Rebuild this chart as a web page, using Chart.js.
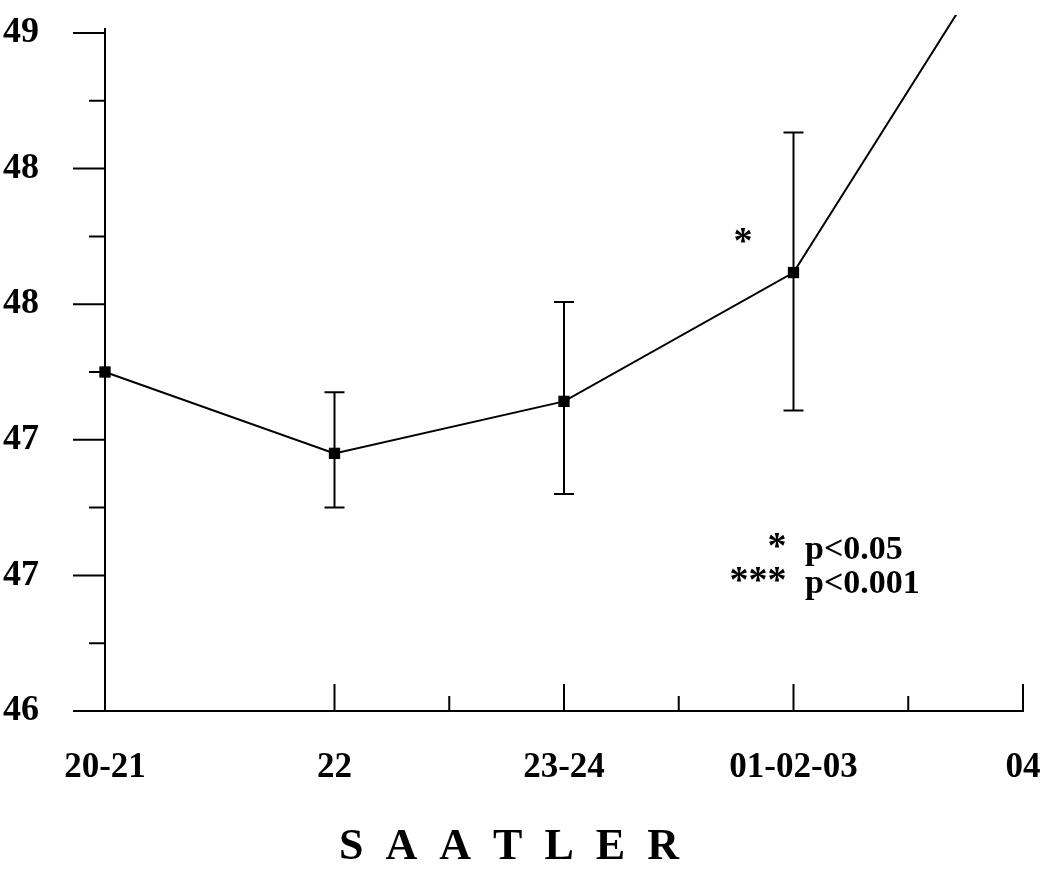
<!DOCTYPE html>
<html lang="tr">
<head>
  <meta charset="UTF-8">
  <meta name="viewport" content="width=device-width, initial-scale=1.0">
  <title>Saatler</title>
  <script src="https://cdn.jsdelivr.net/npm/chart.js@4.4.0/dist/chart.umd.min.js"></script>
  <style>
    html, body { margin: 0; padding: 0; background: #fff; }
    #kutu { width: 1041px; height: 878px; }
  </style>
</head>
<body>
  <div id="kutu"><canvas id="myChart"></canvas></div>

  <script>
    // veriler
    const saatler = ['20-21', '22', '23-24', '01-02-03', '04'];
    const ortalama = [47.50, 47.14, 47.37, 47.94, 49.55];
    const hataUst = [null, 47.41, 47.81, 48.56, null];
    const hataAlt = [null, 46.90, 46.96, 47.33, null];
    const yEtiketler = ['46', '47', '47', '48', '48', '49'];
    const yMin = 46, yMax = 49, yAdim = 0.6;

    const yazi = "'Liberation Serif', 'DejaVu Serif', serif";

    // eksen cizgileri (buyuk ve kucuk)
    const cizgiler = {
      id: 'cizgiler',
      afterDraw(chart) {
        const ctx = chart.ctx, x = chart.scales.x, y = chart.scales.y;
        const a = chart.chartArea;
        ctx.save();
        ctx.strokeStyle = '#000';
        ctx.lineWidth = 2;
        ctx.beginPath();
        y.ticks.forEach((t, i) => {
          const p = y.getPixelForValue(t.value);
          ctx.moveTo(a.left - 32, p); ctx.lineTo(a.left, p);
          if (i < y.ticks.length - 1) {
            const m = y.getPixelForValue(t.value + yAdim / 2);
            ctx.moveTo(a.left - 16, m); ctx.lineTo(a.left, m);
          }
        });
        for (let i = 1; i < saatler.length; i++) {
          const p = x.getPixelForValue(i);
          ctx.moveTo(p, a.bottom); ctx.lineTo(p, a.bottom - 27);
          if (i > 1) {
            const m = x.getPixelForValue(i - 0.5);
            ctx.moveTo(m, a.bottom); ctx.lineTo(m, a.bottom - 15);
          }
        }
        ctx.moveTo(a.left - 25, a.bottom); ctx.lineTo(a.left, a.bottom);
        ctx.moveTo(a.left, a.top); ctx.lineTo(a.left, a.top - 5);
        ctx.stroke();
        ctx.restore();
      }
    };

    // hata cubuklari
    const hataCubuk = {
      id: 'hataCubuk',
      afterDatasetsDraw(chart) {
        const ctx = chart.ctx, x = chart.scales.x, y = chart.scales.y;
        ctx.save();
        ctx.strokeStyle = '#000';
        ctx.lineWidth = 2;
        ctx.beginPath();
        saatler.forEach((s, i) => {
          if (hataUst[i] == null) return;
          const px = x.getPixelForValue(i);
          const ust = y.getPixelForValue(hataUst[i]);
          const alt = y.getPixelForValue(hataAlt[i]);
          ctx.moveTo(px, ust); ctx.lineTo(px, alt);
          ctx.moveTo(px - 10, ust); ctx.lineTo(px + 10, ust);
          ctx.moveTo(px - 10, alt); ctx.lineTo(px + 10, alt);
        });
        ctx.stroke();
        ctx.restore();
      }
    };

    // yildizlar ve aciklama
    const notlar = {
      id: 'notlar',
      afterDraw(chart) {
        const ctx = chart.ctx, x = chart.scales.x, y = chart.scales.y;
        ctx.save();
        ctx.fillStyle = '#000';
        ctx.textBaseline = 'middle';
        ctx.font = 'bold 38px ' + yazi;
        ctx.textAlign = 'center';
        ctx.fillText('*', x.getPixelForValue(2.78), y.getPixelForValue(48.07));
        ctx.textAlign = 'right';
        ctx.fillText('*', x.getPixelForValue(2.97), y.getPixelForValue(46.72));
        ctx.fillText('***', x.getPixelForValue(2.97), y.getPixelForValue(46.57));
        ctx.textAlign = 'left';
        ctx.font = 'bold 34px ' + yazi;
        ctx.fillText('p<0.05', x.getPixelForValue(3.05), y.getPixelForValue(46.71));
        ctx.fillText('p<0.001', x.getPixelForValue(3.05), y.getPixelForValue(46.56));
        ctx.restore();
      }
    };

    new Chart('myChart', {
      type: 'line',
      data: {
        labels: saatler,
        datasets: [{
          data: ortalama,
          borderColor: '#000',
          borderWidth: 2,
          backgroundColor: '#000',
          pointStyle: 'rect',
          pointRadius: 8,
          pointBackgroundColor: '#000',
          pointBorderWidth: 0,
          tension: 0,
          clip: { left: 10, top: 18, right: 10, bottom: 10 }
        }]
      },
      options: {
        responsive: true,
        maintainAspectRatio: false,
        animation: false,
        layout: { padding: { top: 33, right: 18, left: 0, bottom: 0 } },
        plugins: {
          legend: { display: false },
          tooltip: { enabled: false }
        },
        scales: {
          x: {
            offset: false,
            grid: { display: false },
            border: { display: true, color: '#000', width: 2 },
            ticks: {
              color: '#000',
              padding: 28,
              maxRotation: 0,
              autoSkip: false,
              font: { family: yazi, size: 35, weight: 'bold' }
            },
            title: {
              display: true,
              text: 'S  A  A  T  L  E  R' + '          ',
              color: '#000',
              padding: { top: 4, bottom: 4 },
              font: { family: yazi, size: 44, weight: 'bold' }
            },
            afterFit(s) {
              s.height = 167;
              s.paddingLeft = 0;
              s.paddingRight = 0;
            }
          },
          y: {
            min: yMin,
            max: yMax,
            grid: { display: false },
            border: { display: true, color: '#000', width: 2 },
            ticks: {
              stepSize: yAdim,
              color: '#000',
              padding: 58,
              font: { family: yazi, size: 36, weight: 'bold' },
              callback: (v, i) => yEtiketler[i]
            },
            afterFit(s) {
              s.width = 105;
              s.paddingTop = 0;
              s.paddingBottom = 0;
            }
          }
        }
      },
      plugins: [cizgiler, hataCubuk, notlar]
    });
  </script>
</body>
</html>
